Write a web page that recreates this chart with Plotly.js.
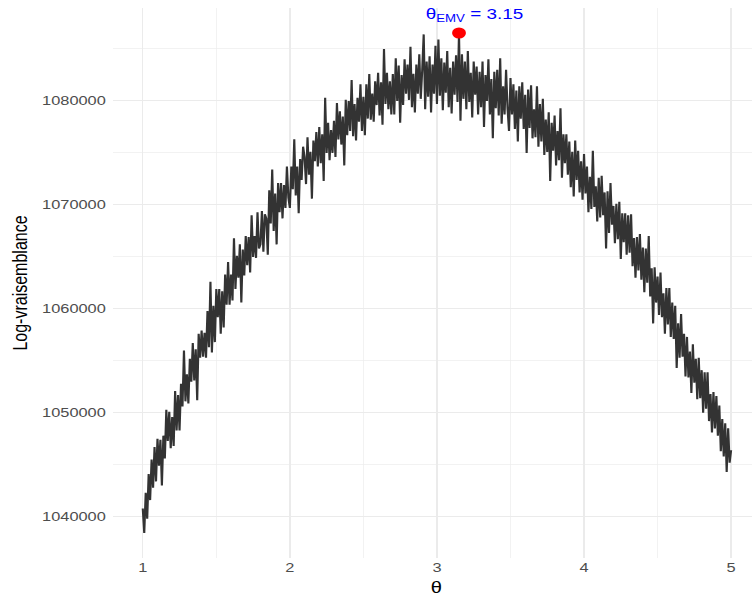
<!DOCTYPE html>
<html>
<head>
<meta charset="utf-8">
<script src="https://cdn.plot.ly/plotly-3.0.1.min.js"></script>
<style>
  html, body { margin: 0; padding: 0; background: #ffffff; overflow: hidden; width: 752px; height: 597px; }
  /* the figure is laid out at 597 px and widened to fill the 752 px page */
  #chart { width: 597px; height: 597px; transform: scaleX(1.2596); transform-origin: 0 0; }
</style>
</head>
<body>
<div id="chart"></div>
<script>
// theta grid: 1.00, 1.01, ..., 5.00
const thetaStart = 1;
const thetaStep = 0.01;

// log-likelihood evaluated on the theta grid
const logLik = [
  1040800, 1038440, 1042300, 1039800, 1044100, 1041600, 1045500, 1042800, 1046700, 1043400,
  1047500, 1044900, 1047400, 1043000, 1047800, 1045600, 1050300, 1047300, 1050100, 1046600,
  1049600, 1046800, 1052100, 1048300, 1051700, 1048300, 1052800, 1050600, 1056000, 1051100,
  1053700, 1050900, 1055200, 1053000, 1056700, 1053100, 1056100, 1051200, 1057600, 1055300,
  1057900, 1055400, 1057700, 1055300, 1059800, 1056300, 1062600, 1055800, 1060300, 1056800,
  1061900, 1059200, 1061900, 1057600, 1061700, 1058200, 1063300, 1060400, 1064500, 1060400,
  1063300, 1060800, 1066800, 1061900, 1065100, 1063000, 1066200, 1060600, 1065700, 1063200,
  1067000, 1064200, 1066900, 1063500, 1069000, 1065000, 1067000, 1064900, 1069300, 1065800,
  1066200, 1069400, 1065500, 1069100, 1068700, 1065200, 1071400, 1068200, 1073400, 1067500,
  1071100, 1066200, 1072100, 1069300, 1072100, 1068700, 1071900, 1069700, 1073700, 1070700,
  1069700, 1073700, 1071500, 1076300, 1070900, 1073700, 1069200, 1074400, 1072400, 1075600,
  1074600, 1072000, 1076500, 1072900, 1075100, 1070600, 1076200, 1074200, 1077000, 1073700,
  1077500, 1074000, 1076800, 1072300, 1080300, 1075000, 1077900, 1074300, 1077200, 1075000,
  1078100, 1074600, 1079800, 1076300, 1079000, 1075800, 1078500, 1073800, 1080100, 1076700,
  1080000, 1077100, 1082000, 1076600, 1079700, 1076200, 1080300, 1078000, 1081600, 1077100,
  1080400, 1076700, 1081600, 1078300, 1082600, 1078200, 1080700, 1078000, 1081900, 1079600,
  1082700, 1078600, 1081800, 1077700, 1085000, 1079700, 1082700, 1079200, 1081900, 1078700,
  1082600, 1078700, 1084100, 1080000, 1083400, 1077900, 1082500, 1079600, 1084000, 1080700,
  1083500, 1080100, 1085200, 1079400, 1082600, 1078900, 1083500, 1080700, 1084500, 1080200,
  1083000, 1086400, 1079200, 1083800, 1080400, 1084300, 1078900, 1083500, 1080700, 1085300,
  1079700, 1085900, 1080500, 1084100, 1079100, 1083700, 1080800, 1084800, 1079400, 1083200,
  1078800, 1083800, 1080600, 1084400, 1079900, 1086536, 1078100, 1084500, 1080200, 1083800,
  1079200, 1084800, 1079900, 1082700, 1078400, 1083800, 1080600, 1083300, 1078700, 1082800,
  1079400, 1083800, 1077500, 1082500, 1080000, 1084000, 1078700, 1082100, 1076400, 1082800,
  1079300, 1083000, 1078600, 1084100, 1077800, 1081400, 1078700, 1083000, 1079300, 1077100,
  1082200, 1078700, 1081600, 1077300, 1081000, 1076100, 1081400, 1078300, 1081800, 1077300,
  1080600, 1075000, 1081100, 1077400, 1081500, 1076400, 1079200, 1076500, 1081400, 1075600,
  1079700, 1076100, 1080200, 1074800, 1078200, 1075100, 1078900, 1072300, 1077900, 1075200,
  1078600, 1073800, 1077100, 1074300, 1079300, 1072600, 1076800, 1074000, 1076800, 1072900,
  1076100, 1071700, 1075100, 1070800, 1076200, 1072400, 1075200, 1071200, 1074200, 1070500,
  1074900, 1071100, 1073700, 1069300, 1072700, 1069600, 1075200, 1069800, 1071800, 1068400,
  1072600, 1068800, 1072800, 1069000, 1071200, 1065800, 1071300, 1067300, 1072100, 1068100,
  1069900, 1066300, 1070100, 1066700, 1070300, 1064800, 1069200, 1066400, 1069200, 1065200,
  1069000, 1065400, 1069100, 1064100, 1066800, 1063000, 1066900, 1063700, 1067200, 1062800,
  1065900, 1061600, 1065800, 1062500, 1067000, 1061200, 1063900, 1058600, 1064000, 1060600,
  1063100, 1059400, 1063500, 1059200, 1061500, 1057600, 1062000, 1058500, 1062000, 1057300,
  1060600, 1057100, 1060300, 1054300, 1058600, 1055300, 1059500, 1055400, 1057600, 1053500,
  1057300, 1053400, 1055900, 1051900, 1056600, 1052900, 1055200, 1051300, 1055300, 1051400,
  1054100, 1050000, 1053900, 1050400, 1053900, 1049200, 1051800, 1048100, 1052000, 1048500,
  1051600, 1047800, 1050700, 1046300, 1049400, 1045800, 1049000, 1044300, 1048500, 1045200,
  1046400
];

// maximum-likelihood estimate
const thetaEMV = 3.15;

const xTicks = [1, 2, 3, 4, 5];
const yTicks = [1040000, 1050000, 1060000, 1070000, 1080000];

const theta = logLik.map((_, i) => +(thetaStart + i * thetaStep).toFixed(2));
const iHat = theta.indexOf(thetaEMV);
const logLikHat = logLik[iHat];

const fontFamily = 'Liberation Sans, Arial, sans-serif';
const tickFont = { family: fontFamily, size: 13, color: '#4d4d4d' };
const titleFont = { family: fontFamily, size: 16, color: '#000000' };

const traces = [
  {
    type: 'scatter', mode: 'lines',
    x: theta, y: logLik,
    line: { color: '#333333', width: 1.7 },
    hoverinfo: 'skip', showlegend: false
  },
  {
    type: 'scatter', mode: 'markers',
    x: [thetaEMV], y: [logLikHat],
    marker: { color: '#ff0000', size: 11, line: { width: 0 } },
    cliponaxis: false, hoverinfo: 'skip', showlegend: false
  }
];

const layout = {
  width: 597, height: 597,
  margin: { l: 90, r: 0, t: 8, b: 39 },
  paper_bgcolor: '#ffffff', plot_bgcolor: '#ffffff',
  showlegend: false,
  xaxis: {
    range: [0.8, 5.142],
    tickvals: xTicks, ticktext: xTicks.map(String),
    showgrid: true, gridcolor: '#ebebeb', gridwidth: 1.1,
    minor: { dtick: 0.5, tick0: 0.5, showgrid: true, gridcolor: '#ebebeb', gridwidth: 0.6 },
    zeroline: false, showline: false, ticks: '',
    tickfont: tickFont
  },
  yaxis: {
    range: [1036030, 1088940],
    tickvals: yTicks, ticktext: yTicks.map(String),
    showgrid: true, gridcolor: '#ebebeb', gridwidth: 1.1,
    minor: { dtick: 5000, tick0: 1035000, showgrid: true, gridcolor: '#ebebeb', gridwidth: 0.6 },
    zeroline: false, showline: false, ticks: '',
    ticklabelstandoff: 5,
    tickfont: tickFont,
    title: { text: 'Log-vraisemblance', font: titleFont, standoff: 7 }
  },
  annotations: [
    {
      x: 3.25, y: 1088270, xref: 'x', yref: 'y',
      text: 'θ<sub>EMV</sub> = ' + thetaEMV.toFixed(2),
      showarrow: false, xanchor: 'center', yanchor: 'middle',
      font: { family: fontFamily, size: 15, color: '#0000ff' }
    },
    {
      x: 3, y: -0.0545, xref: 'x', yref: 'paper',
      text: 'θ', showarrow: false, xanchor: 'center', yanchor: 'middle',
      font: titleFont
    }
  ]
};

Plotly.newPlot('chart', traces, layout, { staticPlot: true, displayModeBar: false });
</script>
</body>
</html>
